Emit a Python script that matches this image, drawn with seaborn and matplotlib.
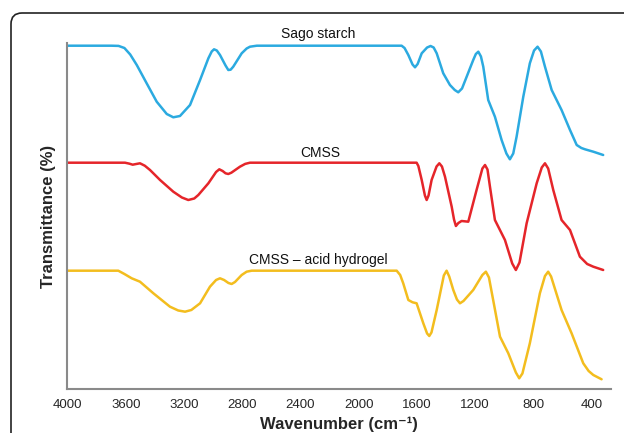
import matplotlib
matplotlib.use("Agg")
import matplotlib.pyplot as plt
from matplotlib.patches import FancyBboxPatch
import seaborn as sns
import pandas as pd

# ---- data (wavenumber cm-1, transmittance in offset arbitrary units) ----
sago_wn = [4000, 3700, 3650, 3610, 3570, 3525, 3457, 3388, 3319, 3274, 3228, 3159,
           3090, 3033, 3010, 2994, 2975, 2953, 2915, 2896, 2880, 2862, 2804, 2770,
           2747, 2700, 1705, 1685, 1659, 1630, 1613, 1595, 1567, 1530, 1506, 1485,
           1464, 1419, 1373, 1340, 1316, 1290, 1258, 1213, 1195, 1178, 1160, 1144,
           1110, 1064, 1018, 985, 961, 938, 915, 869, 824, 795, 771, 748,
           720, 674, 606, 548, 502, 470, 445, 388, 320]
sago_t = [343.8, 343.8, 343.6, 341.5, 335.0, 324.5, 306.2, 287.8, 275.5, 272.2, 273.5, 284.5,
          309.5, 331.2, 338.0, 340.2, 339.0, 334.5, 324.0, 319.5, 319.8, 322.8, 336.2, 341.0,
          342.8, 343.8, 343.8, 341.5, 334.5, 325.0, 322.2, 325.5, 336.2, 342.0, 343.5, 342.0,
          336.2, 316.2, 304.5, 299.5, 297.2, 301.0, 312.8, 329.5, 335.5, 337.8, 333.0, 322.8,
          289.5, 272.8, 249.5, 236.0, 230.2, 236.0, 252.8, 292.8, 326.2, 339.0, 342.8, 338.0,
          322.8, 299.5, 279.5, 259.5, 244.5, 241.5, 240.2, 237.8, 234.5]

cmss_wn = [4000, 3606, 3575, 3553, 3525, 3503, 3470, 3434, 3365, 3274, 3215, 3171,
           3130, 3102, 3033, 2980, 2958, 2935, 2915, 2896, 2875, 2816, 2780, 2747,
           1602, 1590, 1567, 1545, 1533, 1520, 1499, 1465, 1446, 1428, 1407, 1361,
           1345, 1332, 1315, 1293, 1247, 1190, 1150, 1132, 1115, 1098, 1064, 995,
           945, 920, 895, 846, 777, 742, 720, 698, 663, 606, 548, 480,
           430, 388, 320]
cmss_t = [226.8, 226.8, 225.8, 224.8, 225.6, 226.2, 223.8, 219.5, 209.5, 197.8, 192.0, 189.5,
          191.0, 194.5, 206.2, 217.5, 220.2, 218.5, 216.2, 215.5, 216.8, 222.8, 225.6, 226.8,
          226.8, 223.5, 209.5, 194.0, 189.5, 194.0, 209.5, 223.0, 226.2, 223.0, 212.8, 182.8,
          170.0, 163.5, 166.5, 168.5, 167.8, 199.5, 221.0, 224.5, 220.0, 202.8, 169.5, 149.5,
          126.0, 119.5, 127.0, 166.2, 206.2, 222.0, 226.2, 221.0, 199.5, 169.5, 159.5, 132.8,
          125.5, 122.8, 119.5]

gel_wn = [4000, 3652, 3610, 3560, 3503, 3411, 3297, 3240, 3193, 3150, 3090, 3022,
          2980, 2953, 2925, 2895, 2873, 2850, 2804, 2770, 2735, 1739, 1715, 1694,
          1659, 1630, 1602, 1556, 1530, 1515, 1500, 1464, 1415, 1396, 1378, 1350,
          1325, 1304, 1280, 1213, 1150, 1126, 1105, 1076, 1029, 972, 920, 897,
          875, 824, 755, 720, 698, 678, 606, 537, 457, 420, 388, 331]
gel_t = [118.8, 118.8, 115.5, 111.2, 107.8, 96.2, 82.8, 79.0, 77.8, 79.5, 86.2, 102.8,
         109.5, 111.2, 109.5, 106.5, 105.5, 107.5, 114.5, 117.8, 118.8, 118.8, 114.5, 106.2,
         89.5, 87.2, 86.2, 66.2, 56.0, 53.5, 57.0, 79.5, 114.0, 118.8, 113.0, 99.5,
         90.0, 86.2, 88.5, 99.5, 114.5, 117.8, 112.0, 89.5, 52.8, 36.2, 17.0, 11.2,
         16.0, 46.2, 96.2, 113.5, 117.8, 113.0, 79.5, 56.2, 26.2, 18.5, 14.5, 10.2]

series_names = ["Sago starch", "CMSS", "CMSS \u2013 acid hydrogel"]
series_colors = ["#2BAAE0", "#E5252A", "#F3BD1E"]
xticks = [4000, 3600, 3200, 2800, 2400, 2000, 1600, 1200, 800, 400]

# ---- plot ----
sns.set_style("white")
plt.rcParams["font.family"] = ["Liberation Sans", "DejaVu Sans"]

fig = plt.figure(figsize=(6.24, 4.33), dpi=100)
ax = fig.add_axes([0.107, 0.1005, 0.872, 0.7995])

data = [(sago_wn, sago_t), (cmss_wn, cmss_t), (gel_wn, gel_t)]
for (wn, t), name, col in zip(data, series_names, series_colors):
    df = pd.DataFrame({"wavenumber": wn, "T": t})
    sns.lineplot(data=df, x="wavenumber", y="T", color=col, linewidth=1.8,
                 sort=False, estimator=None, ax=ax)
for line in ax.lines:
    line.set_solid_joinstyle("round")
    line.set_solid_capstyle("round")

ax.set_xlim(4006, 267)
ax.set_ylim(0, 346.2)
ax.set_xticks(xticks)
ax.set_xticklabels([str(v) for v in xticks],
                   family=["Liberation Sans Narrow", "Liberation Sans", "DejaVu Sans"],
                   fontsize=9.5)
ax.set_yticks([])
ax.tick_params(axis="x", length=0, pad=7)
for s in ["top", "right"]:
    ax.spines[s].set_visible(False)
for s in ["left", "bottom"]:
    ax.spines[s].set_color("#8a8a8a")
    ax.spines[s].set_linewidth(1.5)

ax.set_xlabel("Wavenumber (cm\u207b\u00b9)", fontsize=12, fontweight="bold", labelpad=4)
ax.set_ylabel("Transmittance (%)", fontsize=12, fontweight="bold", labelpad=8)

label_pos = [(0.462, 1.027), (0.465, 0.684), (0.462, 0.374)]
for name, (lx, ly) in zip(series_names, label_pos):
    ax.text(lx, ly, name, transform=ax.transAxes, ha="center", va="center",
            fontsize=10, color="#111111", clip_on=False)

# rounded outer frame (extends beyond right and bottom edges)
frame = FancyBboxPatch((11, -30), 700, 433 - 13 + 30,
                       boxstyle="round,pad=0,rounding_size=11",
                       transform=None, fill=False, edgecolor="#222222", linewidth=1.2)
fig.add_artist(frame)

fig.savefig("out.png", dpi=100)
